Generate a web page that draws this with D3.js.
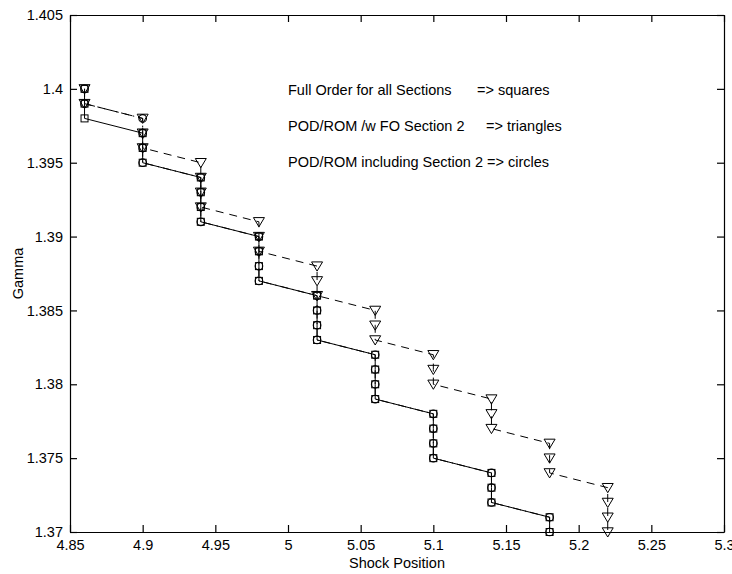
<!DOCTYPE html>
<html>
<head>
<meta charset="utf-8">
<script src="https://cdn.jsdelivr.net/npm/d3@7"></script>
<style>
  html, body { margin: 0; padding: 0; background: #fff; }
  svg { display: block; }
  text { font-family: "Liberation Sans", Arial, sans-serif; fill: #000; }
</style>
</head>
<body>
<svg id="chart" width="732" height="574"></svg>
<script>
// Shock position (x) and gamma (y) for each run
const squaresX = [4.86, 4.86, 4.86, 4.90, 4.90, 4.90,
  4.94, 4.94, 4.94, 4.94, 4.98, 4.98, 4.98, 4.98,
  5.02, 5.02, 5.02, 5.02, 5.06, 5.06, 5.06, 5.06,
  5.10, 5.10, 5.10, 5.10, 5.14, 5.14, 5.14, 5.18, 5.18];
const squaresY = [1.400, 1.399, 1.398, 1.397, 1.396, 1.395,
  1.394, 1.393, 1.392, 1.391, 1.390, 1.389, 1.388, 1.387,
  1.386, 1.385, 1.384, 1.383, 1.382, 1.381, 1.380, 1.379,
  1.378, 1.377, 1.376, 1.375, 1.374, 1.373, 1.372, 1.371, 1.370];

const trianglesX = [4.86, 4.86, 4.90, 4.90, 4.90,
  4.94, 4.94, 4.94, 4.94, 4.98, 4.98, 4.98,
  5.02, 5.02, 5.02, 5.06, 5.06, 5.06, 5.10, 5.10, 5.10,
  5.14, 5.14, 5.14, 5.18, 5.18, 5.18, 5.22, 5.22, 5.22, 5.22];
const trianglesY = [1.400, 1.399, 1.398, 1.397, 1.396,
  1.395, 1.394, 1.393, 1.392, 1.391, 1.390, 1.389,
  1.388, 1.387, 1.386, 1.385, 1.384, 1.383, 1.382, 1.381, 1.380,
  1.379, 1.378, 1.377, 1.376, 1.375, 1.374, 1.373, 1.372, 1.371, 1.370];

const circlesX = [4.86, 4.86, 4.90, 4.90, 4.90, 4.90,
  4.94, 4.94, 4.94, 4.94, 4.98, 4.98, 4.98, 4.98,
  5.02, 5.02, 5.02, 5.02, 5.06, 5.06, 5.06, 5.06,
  5.10, 5.10, 5.10, 5.10, 5.14, 5.14, 5.14, 5.18, 5.18];
const circlesY = [1.400, 1.399, 1.398, 1.397, 1.396, 1.395,
  1.394, 1.393, 1.392, 1.391, 1.390, 1.389, 1.388, 1.387,
  1.386, 1.385, 1.384, 1.383, 1.382, 1.381, 1.380, 1.379,
  1.378, 1.377, 1.376, 1.375, 1.374, 1.373, 1.372, 1.371, 1.370];

const xTicks = [4.85, 4.9, 4.95, 5, 5.05, 5.1, 5.15, 5.2, 5.25, 5.3];
const xTickLabels = ["4.85", "4.9", "4.95", "5", "5.05", "5.1", "5.15", "5.2", "5.25", "5.3"];
const yTicks = [1.37, 1.375, 1.38, 1.385, 1.39, 1.395, 1.4, 1.405];
const yTickLabels = ["1.37", "1.375", "1.38", "1.385", "1.39", "1.395", "1.4", "1.405"];

const notes = [
  ["Full Order for all Sections", "=> squares"],
  ["POD/ROM /w FO Section 2", "=> triangles"],
  ["POD/ROM including Section 2 => circles", ""]
];

const svg = d3.select("#chart");
const box = { left: 70, right: 724, top: 15, bottom: 532 };

const x = d3.scaleLinear().domain([4.85, 5.3]).range([box.left, box.right]);
const y = d3.scaleLinear().domain([1.37, 1.405]).range([box.bottom, box.top]);

const fontSize = "14.5px";
const tickLen = 7;

// Axes with inward ticks on all four sides
const axisBottom = d3.axisBottom(x).tickValues(xTicks)
  .tickFormat((d, i) => xTickLabels[i]).tickSizeInner(-tickLen).tickSizeOuter(0).tickPadding(8);
const axisTop = d3.axisTop(x).tickValues(xTicks).tickFormat("").tickSizeInner(-tickLen).tickSizeOuter(0);
const axisLeft = d3.axisLeft(y).tickValues(yTicks)
  .tickFormat((d, i) => yTickLabels[i]).tickSizeInner(-tickLen).tickSizeOuter(0).tickPadding(7);
const axisRight = d3.axisRight(y).tickValues(yTicks).tickFormat("").tickSizeInner(-tickLen).tickSizeOuter(0);

function styleAxis(g) {
  g.select(".domain").attr("stroke", "#000").attr("stroke-width", 1.2);
  g.selectAll(".tick line").attr("stroke", "#000").attr("stroke-width", 1.2);
  g.selectAll(".tick text").attr("font-size", fontSize)
    .attr("font-family", "Liberation Sans, Arial, sans-serif").attr("fill", "#000");
}

svg.append("g").attr("transform", `translate(0,${box.bottom})`).call(axisBottom).call(styleAxis);
svg.append("g").attr("transform", `translate(0,${box.top})`).call(axisTop).call(styleAxis);
svg.append("g").attr("transform", `translate(${box.left},0)`).call(axisLeft).call(styleAxis);
svg.append("g").attr("transform", `translate(${box.right},0)`).call(axisRight).call(styleAxis);

// Axis titles
svg.append("text")
  .attr("x", (box.left + box.right) / 2).attr("y", 568)
  .attr("text-anchor", "middle").attr("font-size", fontSize)
  .text("Shock Position");
svg.append("text")
  .attr("transform", `translate(23,${(box.top + box.bottom) / 2}) rotate(-90)`)
  .attr("text-anchor", "middle").attr("font-size", fontSize)
  .text("Gamma");

// Series lines
const line = d3.line().x(d => x(d[0])).y(d => y(d[1]));
const pts = (xs, ys) => xs.map((v, i) => [v, ys[i]]);

const squares = pts(squaresX, squaresY);
const triangles = pts(trianglesX, trianglesY);
const circles = pts(circlesX, circlesY);

const plot = svg.append("g");

plot.append("path").datum(squares).attr("d", line)
  .attr("fill", "none").attr("stroke", "#000").attr("stroke-width", 1);
plot.append("path").datum(triangles).attr("d", line)
  .attr("fill", "none").attr("stroke", "#000").attr("stroke-width", 1)
  .attr("stroke-dasharray", "8,6");
plot.append("path").datum(circles).attr("d", line)
  .attr("fill", "none").attr("stroke", "#000").attr("stroke-width", 1)
  .attr("stroke-dasharray", "8,4,1.5,4");

// Markers: open squares, downward triangles, open circles
plot.selectAll("rect.sq").data(squares).join("rect")
  .attr("class", "sq")
  .attr("x", d => x(d[0]) - 3.5).attr("y", d => y(d[1]) - 3.5)
  .attr("width", 7).attr("height", 7)
  .attr("fill", "none").attr("stroke", "#000").attr("stroke-width", 1);

const triPath = (() => {
  const w = 5.5, hTop = 4.2, hTip = 5;
  return `M${-w},${-hTop}L${w},${-hTop}L0,${hTip}Z`;
})();
plot.selectAll("path.tri").data(triangles).join("path")
  .attr("class", "tri")
  .attr("d", triPath)
  .attr("transform", d => `translate(${x(d[0])},${y(d[1])})`)
  .attr("fill", "none").attr("stroke", "#000").attr("stroke-width", 1);

plot.selectAll("circle.ci").data(circles).join("circle")
  .attr("class", "ci")
  .attr("cx", d => x(d[0])).attr("cy", d => y(d[1])).attr("r", 3.8)
  .attr("fill", "none").attr("stroke", "#000").attr("stroke-width", 1.1);

// Annotation lines
const noteX = 288, noteX2 = [477, 486, 0], noteY = [95, 131, 167];
notes.forEach((n, i) => {
  svg.append("text").attr("x", noteX).attr("y", noteY[i])
    .attr("font-size", fontSize).text(n[0]);
  if (n[1]) {
    svg.append("text").attr("x", noteX2[i]).attr("y", noteY[i])
      .attr("font-size", fontSize).text(n[1]);
  }
});
</script>
</body>
</html>
